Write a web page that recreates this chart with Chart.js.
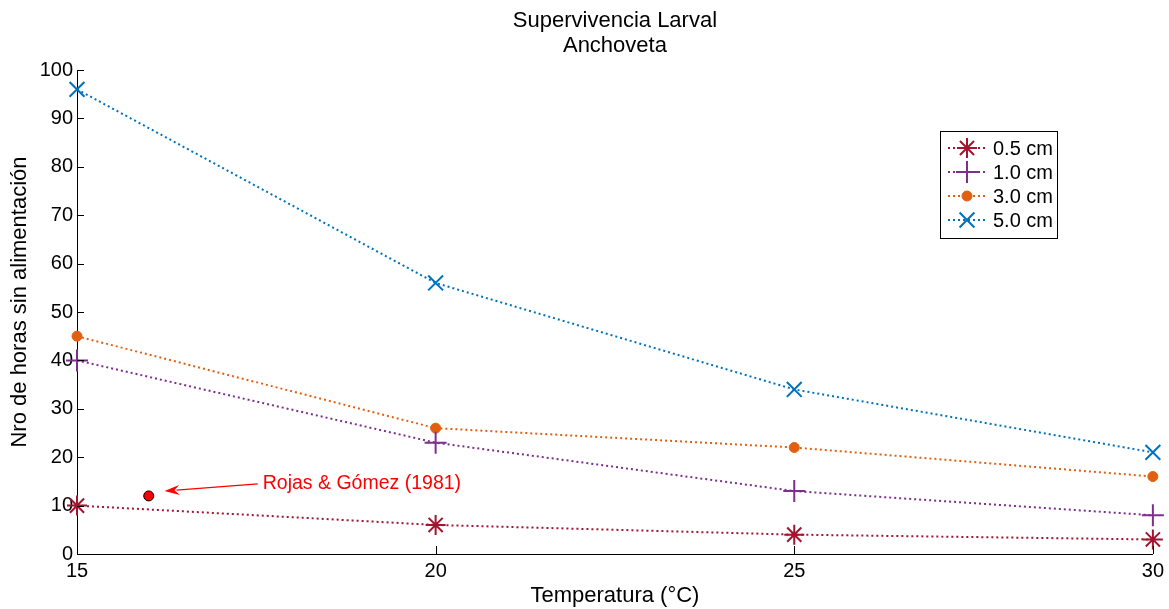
<!DOCTYPE html>
<html lang="es">
<head>
  <meta charset="UTF-8">
  <title>Supervivencia Larval - Anchoveta</title>
  <script src="https://cdn.jsdelivr.net/npm/chart.js"></script>
  <style>
    html, body {
      margin: 0;
      padding: 0;
      background: #fff;
    }
    #wrap {
      width: 1169px;
      height: 609px;
    }
  </style>
</head>
<body>
<div id="wrap"><canvas id="larvalChart" width="1169" height="609"></canvas></div>

<script>
  // temperatures (x) and hours without food (y) per larval size
  const temps = [15, 20, 25, 30];
  const size05 = [10, 6, 4, 3];
  const size10 = [40, 23, 13, 8];
  const size30 = [45, 26, 22, 16];
  const size50 = [96, 56, 34, 21];
  const sizeLabels = ['0.5 cm', '1.0 cm', '3.0 cm', '5.0 cm'];

  const xTicks = [15, 20, 25, 30];
  const yTicks = [0, 10, 20, 30, 40, 50, 60, 70, 80, 90, 100];

  // Rojas & Gómez (1981) reference point and its note
  const rojasPoint = { x: 16, y: 12 };
  const noteText = 'Rojas & Gómez (1981)';
  const noteTail = { x: 17.52, y: 14.5 };
  const noteHead = { x: 16.22, y: 13.0 };

  const titleLines = ['Supervivencia Larval', 'Anchoveta'];
  const xTitle = 'Temperatura (°C)';
  const yTitle = 'Nro de horas sin alimentación';

  const FONT = '"Liberation Sans", Arial, sans-serif';
  const colors = ['#A2142F', '#7E2F8E', '#E06010', '#0072BD'];
  const markers = ['star', 'cross', 'circle', 'crossRot'];
  const markerSize = [10, 11, 5, 10.5];

  const series = [size05, size10, size30, size50];

  const datasets = series.map((vals, i) => ({
    label: sizeLabels[i],
    data: temps.map((t, j) => ({ x: t, y: vals[j] })),
    borderColor: colors[i],
    backgroundColor: colors[i],
    borderWidth: 2,
    borderDash: [2, 3],
    pointStyle: markers[i],
    pointRadius: markerSize[i],
    pointBorderWidth: markers[i] === 'circle' ? 1 : 2,
    pointBorderColor: colors[i],
    pointBackgroundColor: colors[i],
    fill: false,
    clip: false,
  }));

  datasets.push({
    label: 'Rojas',
    data: [rojasPoint],
    showLine: false,
    pointStyle: 'circle',
    pointRadius: 5,
    pointBorderWidth: 1,
    pointBorderColor: '#000',
    pointBackgroundColor: '#ff0000',
    clip: false,
  });

  const decorations = {
    id: 'decorations',
    afterDraw(chart) {
      const c = chart.ctx;
      const area = chart.chartArea;
      const xs = chart.scales.x;
      const ys = chart.scales.y;
      c.save();

      // inward tick marks
      c.strokeStyle = '#000';
      c.lineWidth = 1;
      c.beginPath();
      yTicks.forEach(v => {
        const py = Math.round(ys.getPixelForValue(v)) + 0.5;
        c.moveTo(area.left, py);
        c.lineTo(area.left + 7, py);
      });
      xTicks.forEach(v => {
        const px = Math.round(xs.getPixelForValue(v)) + 0.5;
        c.moveTo(px, area.bottom);
        c.lineTo(px, area.bottom - 8);
      });
      c.stroke();

      // titles
      c.fillStyle = '#000';
      c.font = '22px ' + FONT;
      c.textAlign = 'center';
      c.textBaseline = 'middle';
      const cx = (area.left + area.right) / 2;
      c.fillText(titleLines[0], cx, 21);
      c.fillText(titleLines[1], cx, 46);
      c.fillText(xTitle, cx, 596);
      c.save();
      c.translate(20, 302);
      c.rotate(-Math.PI / 2);
      c.fillText(yTitle, 0, 0);
      c.restore();

      // note arrow
      const tx = xs.getPixelForValue(noteTail.x);
      const ty = ys.getPixelForValue(noteTail.y);
      const hx = xs.getPixelForValue(noteHead.x);
      const hy = ys.getPixelForValue(noteHead.y);
      const ang = Math.atan2(hy - ty, hx - tx);
      c.strokeStyle = '#ff0000';
      c.fillStyle = '#ff0000';
      c.lineWidth = 1.2;
      c.beginPath();
      c.moveTo(tx, ty);
      c.lineTo(hx - 12 * Math.cos(ang), hy - 12 * Math.sin(ang));
      c.stroke();
      c.beginPath();
      c.moveTo(hx, hy);
      c.lineTo(hx - 15 * Math.cos(ang) + 5 * Math.sin(ang), hy - 15 * Math.sin(ang) - 5 * Math.cos(ang));
      c.lineTo(hx - 10 * Math.cos(ang), hy - 10 * Math.sin(ang));
      c.lineTo(hx - 15 * Math.cos(ang) - 5 * Math.sin(ang), hy - 15 * Math.sin(ang) + 5 * Math.cos(ang));
      c.closePath();
      c.fill();
      c.font = '19.5px ' + FONT;
      c.textAlign = 'left';
      c.fillText(noteText, tx + 5, ty);

      // legend box
      const lx = 940.5, ly = 131.5, lw = 117, lh = 107;
      c.fillStyle = '#fff';
      c.fillRect(lx, ly, lw, lh);
      c.strokeStyle = '#000';
      c.lineWidth = 1;
      c.strokeRect(lx, ly, lw, lh);
      sizeLabels.forEach((lab, i) => {
        const rowY = 148 + i * 24;
        c.save();
        c.strokeStyle = colors[i];
        c.lineWidth = 2;
        c.setLineDash([2, 3]);
        c.beginPath();
        c.moveTo(948, rowY);
        c.lineTo(987, rowY);
        c.stroke();
        c.setLineDash([]);
        c.fillStyle = colors[i];
        c.lineWidth = markers[i] === 'circle' ? 1 : 2;
        Chart.helpers.drawPoint(c, {
          pointStyle: markers[i],
          radius: markerSize[i],
          borderWidth: markers[i] === 'circle' ? 1 : 2,
          rotation: 0,
        }, 967, rowY);
        c.restore();
        c.fillStyle = '#000';
        c.font = '20px ' + FONT;
        c.textAlign = 'left';
        c.fillText(lab, 993, rowY + 1);
      });

      c.restore();
    }
  };

  const ctx = document.getElementById('larvalChart').getContext('2d');
  const larvalChart = new Chart(ctx, {
    type: 'line',
    data: { datasets: datasets },
    options: {
      responsive: false,
      animation: false,
      layout: { padding: { top: 70, right: 16, left: 0, bottom: 0 } },
      scales: {
        x: {
          type: 'linear',
          min: 15,
          max: 30,
          afterFit(scale) { scale.height = 55; },
          afterBuildTicks(scale) { scale.ticks = xTicks.map(v => ({ value: v })); },
          grid: { display: false, drawTicks: false },
          border: { display: true, color: '#000', width: 1 },
          ticks: { color: '#000', font: { size: 20, family: FONT }, padding: 5, maxRotation: 0 },
        },
        y: {
          min: 0,
          max: 100,
          afterFit(scale) { scale.width = 77; },
          afterBuildTicks(scale) { scale.ticks = yTicks.map(v => ({ value: v })); },
          grid: { display: false, drawTicks: false },
          border: { display: true, color: '#000', width: 1 },
          ticks: { color: '#000', font: { size: 20, family: FONT }, padding: 4 },
        }
      },
      plugins: {
        legend: { display: false },
        title: { display: false },
        tooltip: { enabled: false },
      },
    },
    plugins: [decorations]
  });
</script>
</body>
</html>
